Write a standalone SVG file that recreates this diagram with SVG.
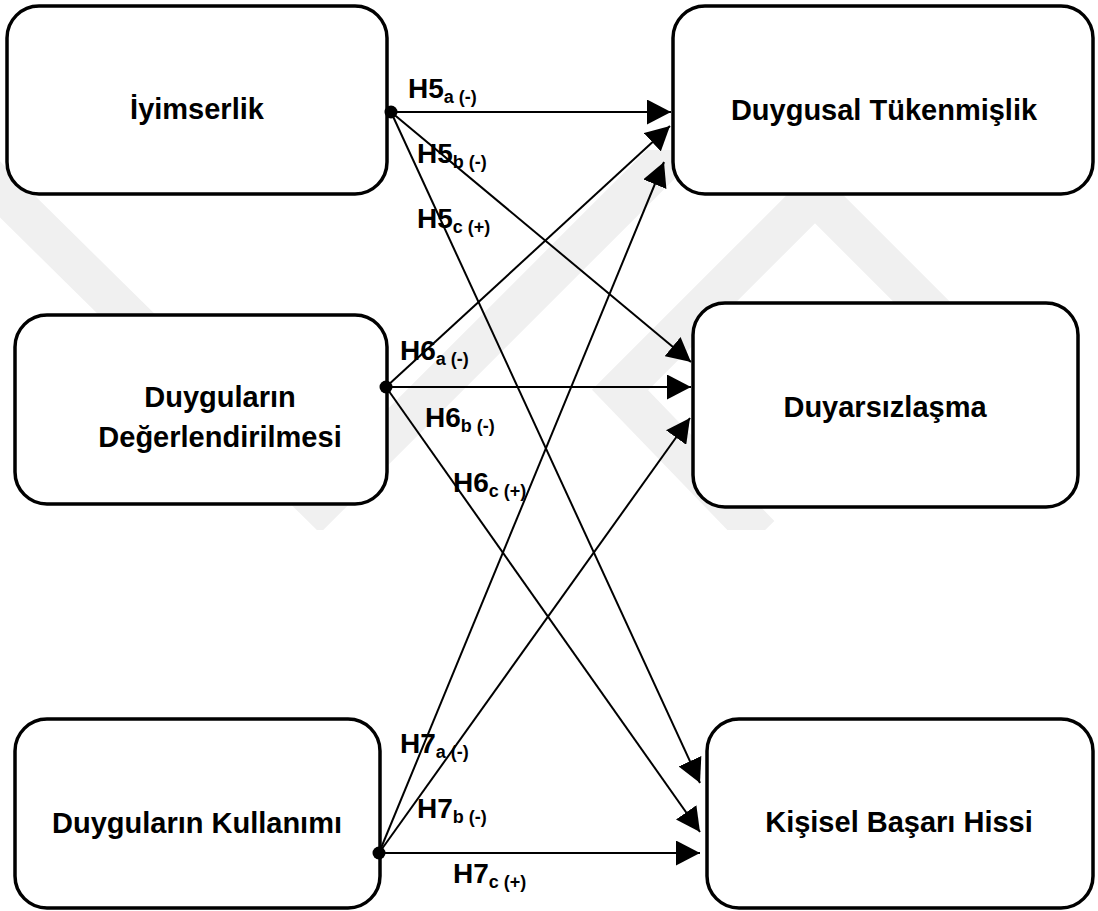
<svg xmlns="http://www.w3.org/2000/svg" width="1098" height="911" viewBox="0 0 1098 911">
<style>
.box{fill:#fff;stroke:#000;stroke-width:3.5}
.nt{font-family:"Liberation Sans",Arial,sans-serif;font-weight:bold;font-size:29px;fill:#000;text-anchor:middle}
.lb{font-family:"Liberation Sans",Arial,sans-serif;font-weight:bold;font-size:28px;fill:#000}
.sub{font-size:18px}
.c{stroke:#000;stroke-width:2;fill:none;marker-end:url(#ah)}
.dot{fill:#000}
.wm{fill:none;stroke:#f0f0f0;stroke-width:40;stroke-linejoin:miter;stroke-miterlimit:4}
</style>
<defs>
<marker id="ah" viewBox="0 0 24 25" refX="24" refY="12.5" markerWidth="24" markerHeight="25" markerUnits="userSpaceOnUse" orient="auto"><path d="M0,0 L24,12.5 L0,25 z" fill="#000"/></marker>
<clipPath id="wmclip"><rect x="0" y="150" width="1098" height="380"/></clipPath>
</defs>
<rect width="1098" height="911" fill="#fff"/>
<g id="watermark" clip-path="url(#wmclip)">
<polyline class="wm" points="-40,150 320,505 680,145"/>
<polyline class="wm" points="760,535 620,390 815,195 1010,390"/>
</g>
<g id="n-iyimserlik">
<rect class="box" x="7" y="6" width="380" height="188" rx="32"/>
<text class="nt" x="197" y="119">İyimserlik</text>
</g>
<g id="n-degerlendirme">
<rect class="box" x="15" y="315" width="372" height="189" rx="32"/>
<text class="nt" x="220" y="407">Duyguların</text>
<text class="nt" x="220" y="447">Değerlendirilmesi</text>
</g>
<g id="n-kullanim">
<rect class="box" x="15" y="719" width="365" height="189" rx="32"/>
<text class="nt" x="197" y="833">Duyguların Kullanımı</text>
</g>
<g id="n-tukenmislik">
<rect class="box" x="673" y="6" width="420" height="188" rx="32"/>
<text class="nt" x="884" y="120">Duygusal Tükenmişlik</text>
</g>
<g id="n-duyarsizlasma">
<rect class="box" x="693" y="303" width="385" height="204" rx="32"/>
<text class="nt" x="885" y="417">Duyarsızlaşma</text>
</g>
<g id="n-basari">
<rect class="box" x="707" y="719" width="386" height="189" rx="32"/>
<text class="nt" x="899" y="832">Kişisel Başarı Hissi</text>
</g>
<g id="connectors">
<line class="c" x1="391" y1="112" x2="671" y2="112"/>
<line class="c" x1="391" y1="112" x2="691" y2="362"/>
<line class="c" x1="391" y1="112" x2="700" y2="783"/>
<line class="c" x1="386" y1="387" x2="670" y2="126"/>
<line class="c" x1="386" y1="387" x2="691" y2="387"/>
<line class="c" x1="386" y1="387" x2="700" y2="832"/>
<line class="c" x1="379" y1="853" x2="664" y2="162"/>
<line class="c" x1="379" y1="853" x2="690" y2="418"/>
<line class="c" x1="379" y1="853" x2="700" y2="853"/>
<circle class="dot" cx="391" cy="112" r="6.5"/>
<circle class="dot" cx="386" cy="387" r="6.5"/>
<circle class="dot" cx="379" cy="853" r="6.5"/>
</g>
<g id="labels">
<text class="lb" x="408" y="98">H5<tspan class="sub" dy="5">a (-)</tspan></text>
<text class="lb" x="417" y="163">H5<tspan class="sub" dy="5">b (-)</tspan></text>
<text class="lb" x="417" y="228">H5<tspan class="sub" dy="5">c (+)</tspan></text>
<text class="lb" x="400" y="360">H6<tspan class="sub" dy="5">a (-)</tspan></text>
<text class="lb" x="425" y="427">H6<tspan class="sub" dy="5">b (-)</tspan></text>
<text class="lb" x="453" y="492">H6<tspan class="sub" dy="5">c (+)</tspan></text>
<text class="lb" x="400" y="753">H7<tspan class="sub" dy="5">a (-)</tspan></text>
<text class="lb" x="417" y="818">H7<tspan class="sub" dy="5">b (-)</tspan></text>
<text class="lb" x="453" y="883">H7<tspan class="sub" dy="5">c (+)</tspan></text>
</g>
</svg>
